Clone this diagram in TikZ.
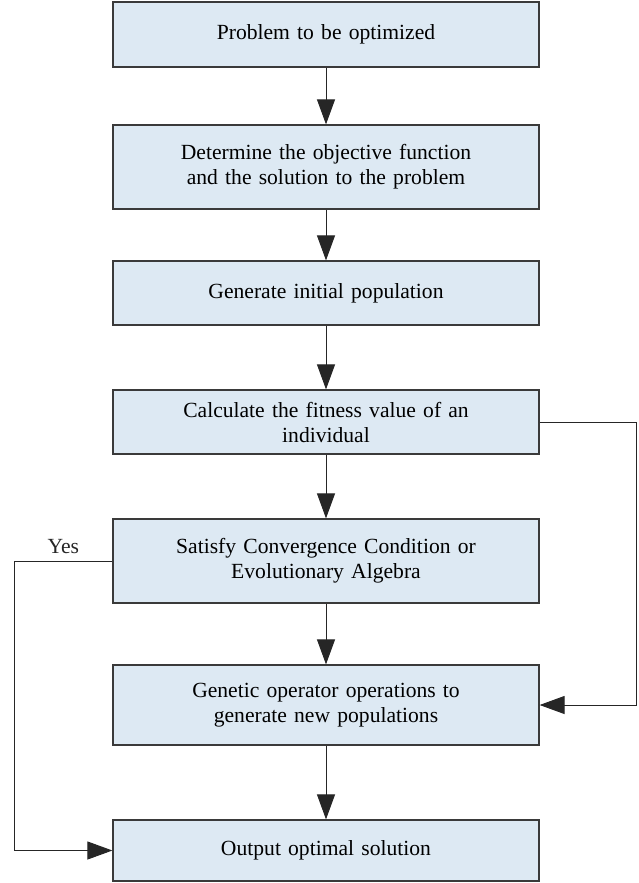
\documentclass[tikz,border=0pt]{standalone}
\usepackage{fontspec}
\setmainfont{Liberation Serif}
\usetikzlibrary{arrows.meta}
\definecolor{boxfill}{HTML}{DDE9F3}
\definecolor{boxline}{HTML}{3A3A3A}
\tikzset{
  stage/.style={draw=boxline, line width=0.6pt, fill=boxfill, minimum width=213pt,
    text width=200pt, align=center, inner sep=0pt},
  flow/.style={black!85, line width=0.5pt, -{Triangle[length=12.5pt,width=9pt]}}
}
\begin{document}
\begin{tikzpicture}[x=0.5pt, y=-0.5pt, font=\fontsize{10.8}{12.5}\selectfont]
\useasboundingbox (0,0) rectangle (638,883);
\node[stage, minimum height=32.5pt] (opt) at (326,34.5) {Problem to be optimized};
\node[stage, minimum height=42pt] (obj) at (326,167) {Determine the objective function\\and the solution to the problem};
\node[stage, minimum height=32pt] (init) at (326,293) {Generate initial population};
\node[stage, minimum height=32pt] (fit) at (326,422) {Calculate the fitness value of an\\individual};
\node[stage, minimum height=42pt] (conv) at (326,561) {Satisfy Convergence Condition or\\Evolutionary Algebra};
\node[stage, minimum height=40pt] (genop) at (326,705) {Genetic operator operations to\\generate new populations};
\node[stage, minimum height=30.5pt] (out) at (326,850.5) {Output optimal solution};
\foreach \a/\b in {opt/obj, obj/init, init/fit, fit/conv, conv/genop, genop/out} {
 \draw[flow] (\a) -- (\b);
}
\draw[flow] (fit.east) -- ++(97,0) |- (genop.east);
\draw[flow] (conv.west) -- ++(-98,0) node[midway, above] (yes) {Yes} |- (out.west);
\end{tikzpicture}
\end{document}
